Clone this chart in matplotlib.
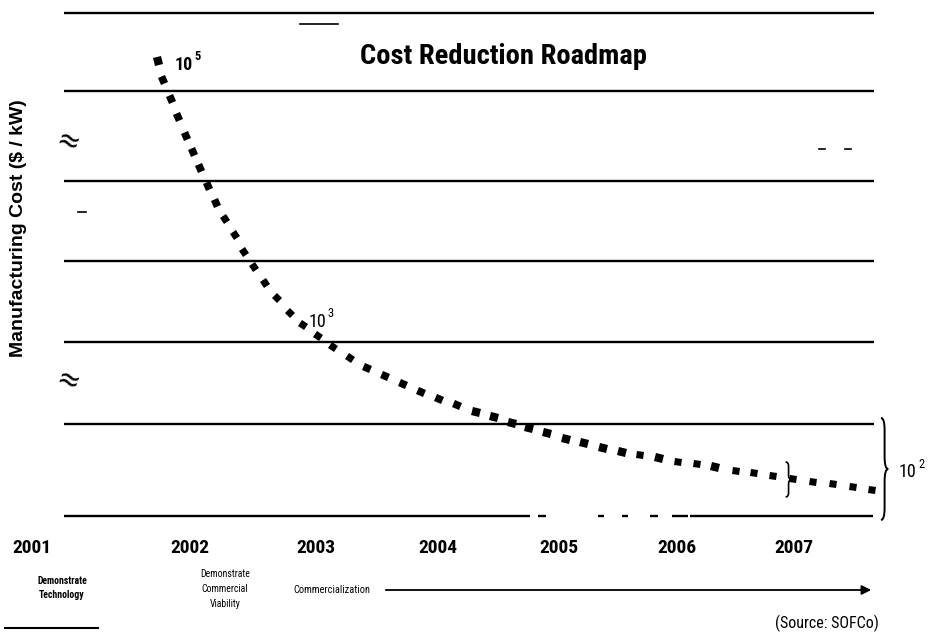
import matplotlib.pyplot as plt
from matplotlib.markers import MarkerStyle
from matplotlib.path import Path
from matplotlib.patches import PathPatch
import matplotlib.transforms as mtransforms
import numpy as np

NARROW = ['Liberation Sans Narrow', 'Roboto Condensed', 'DejaVu Sans']
plt.rcParams['font.stretch'] = 'condensed'

years = ['2001', '2002', '2003', '2004', '2005', '2006', '2007']
year_pos = [2000.69, 2002.0, 2003.04, 2004.05, 2005.05, 2006.03, 2007.0]

# roadmap curve: year vs height above the bottom rule (broken cost scale)
curve_year = [2001.735, 2001.776, 2001.843, 2001.901, 2001.967, 2002.025, 2002.083,
              2002.149, 2002.215, 2002.290, 2002.373, 2002.447, 2002.530, 2002.621,
              2002.720, 2002.828, 2002.935, 2003.060, 2003.184, 2003.325, 2003.465,
              2003.614, 2003.763, 2003.912, 2004.061, 2004.210, 2004.368, 2004.517,
              2004.666, 2004.806, 2004.955, 2005.113, 2005.262, 2005.419, 2005.576,
              2005.725, 2005.882, 2006.040, 2006.197, 2006.346, 2006.520, 2006.669,
              2006.826, 2006.992, 2007.157, 2007.323, 2007.488, 2007.646]
curve_level = [455, 436, 417, 399, 380, 364, 348, 330, 313, 297, 281, 264, 249, 233,
               218, 203, 191, 180, 169, 158, 148, 140, 132, 124, 117, 111, 104, 99,
               93, 88, 83, 77, 73, 68, 64, 61, 58, 54, 52, 49, 45, 43, 40, 37,
               34, 32, 29, 26]

grid_levels = [503, 425, 335, 255, 174, 92]
# bottom rule is patchy in places
bottom_rule = [(2000.96, 2004.815), (2004.88, 2004.947), (2005.377, 2005.427),
               (2005.576, 2005.626), (2005.808, 2005.874), (2005.99, 2006.123),
               (2006.139, 2007.654)]

W, H = 935, 636
fig = plt.figure(figsize=(W / 100, H / 100), dpi=100)
ax = fig.add_axes([0, 0, 1, 1])
ax.set_xlim(2000.4272, 2008.1672)
ax.set_ylim(-120, 516)
ax.axis('off')


def fx(px):
    return px / W


def fy(py):
    return 1 - py / H


def tick(x0, x1, y, lw=1.2):
    fig.add_artist(plt.Line2D([fx(x0), fx(x1)], [fy(y), fy(y)], color='black', lw=lw))


ax.hlines(grid_levels, 2000.96, 2007.665, color='black', lw=1.7)
for a, b in bottom_rule:
    ax.hlines(0, a, b, color='black', lw=1.7)

# square dots turned along the curve
pts = ax.transData.transform(np.column_stack([curve_year, curve_level]))
grad = np.gradient(pts, axis=0)
angles = np.degrees(np.arctan2(grad[:, 1], grad[:, 0]))
for (x, y), ang in zip(zip(curve_year, curve_level), angles):
    m = MarkerStyle('s', transform=mtransforms.Affine2D().rotate_deg(ang))
    ax.plot(x, y, marker=m, ms=5.6, color='black', mew=0)


def brace(x0, y_bot, y_top, w, lw):
    ym = (y_bot + y_top) / 2
    r = (y_top - y_bot) * 0.12
    verts = [(x0, y_top), (x0 + w, y_top), (x0 + w, y_top - r),
             (x0 + w, ym + r),
             (x0 + w, ym), (x0 + 2 * w, ym),
             (x0 + w, ym), (x0 + w, ym - r),
             (x0 + w, y_bot + r),
             (x0 + w, y_bot), (x0, y_bot)]
    codes = [Path.MOVETO, Path.CURVE3, Path.CURVE3, Path.LINETO,
             Path.CURVE3, Path.CURVE3, Path.CURVE3, Path.CURVE3,
             Path.LINETO, Path.CURVE3, Path.CURVE3]
    ax.add_patch(PathPatch(Path(verts, codes), fill=False, lw=lw, color='black'))


brace(2007.72, -4, 98, 0.03, 1.4)
brace(2006.93, 19, 54, 0.025, 1.2)

# labels on the curve
ax.annotate('10', (curve_year[0], curve_level[0]), xytext=(12, -3),
            textcoords='offset points', fontsize=13, family=NARROW,
            fontweight='bold', va='center')
ax.annotate('5', (curve_year[0], curve_level[0]), xytext=(26.5, 3),
            textcoords='offset points', fontsize=9, family=NARROW,
            fontweight='bold', va='center')
ax.annotate('10', (curve_year[17], curve_level[17]), xytext=(-7, 10),
            textcoords='offset points', fontsize=13, family=NARROW, va='center')
ax.annotate('3', (curve_year[17], curve_level[17]), xytext=(7, 16),
            textcoords='offset points', fontsize=9, family=NARROW, va='center')
fig.text(fx(899), fy(472), '10', fontsize=13, family=NARROW, va='center')
fig.text(fx(918), fy(464), '2', fontsize=9, family=NARROW, va='center')

fig.text(fx(504), fy(57), 'Cost Reduction Roadmap', fontsize=20.5, family=NARROW,
         fontweight='bold', ha='center', va='center')
tick(300, 338, 24)

fig.text(fx(19), fy(228), 'Manufacturing Cost ($ / kW)', rotation=90, fontsize=14,
         family='Liberation Sans', fontweight='bold', fontstretch='normal',
         ha='center', va='center')
for py in (143, 382):
    fig.text(fx(67), fy(py), '\u2248', fontsize=22, rotation=-20,
             ha='center', va='center')
tick(78, 86, 212)
tick(819, 825, 149)
tick(845, 851, 149)

trans = mtransforms.blended_transform_factory(ax.transData, fig.transFigure)
for pos, lab in zip(year_pos, years):
    ax.text(pos, fy(548), lab, transform=trans, fontsize=14, family=NARROW,
            fontweight='bold', ha='center', va='center')

fig.text(fx(62), fy(588), 'Demonstrate\nTechnology', fontsize=7, family=NARROW,
         fontweight='bold', ha='center', va='center', linespacing=1.6)
fig.text(fx(225), fy(589), 'Demonstrate\nCommercial\nViability', fontsize=7,
         family=NARROW, ha='center', va='center', linespacing=1.6)
fig.text(fx(293), fy(590), 'Commercialization', fontsize=7.5, family=NARROW,
         ha='left', va='center')
ax.annotate('', xy=(fx(874), fy(590)), xytext=(fx(383), fy(590)),
            xycoords='figure fraction', textcoords='figure fraction',
            arrowprops=dict(arrowstyle='-|>', color='black', lw=1.3,
                            mutation_scale=14))
fig.text(fx(775), fy(623), '(Source: SOFCo)', fontsize=11.5, family=NARROW,
         ha='left', va='center')
tick(5, 98, 628, 1.5)

fig.savefig('out.png', dpi=100)
